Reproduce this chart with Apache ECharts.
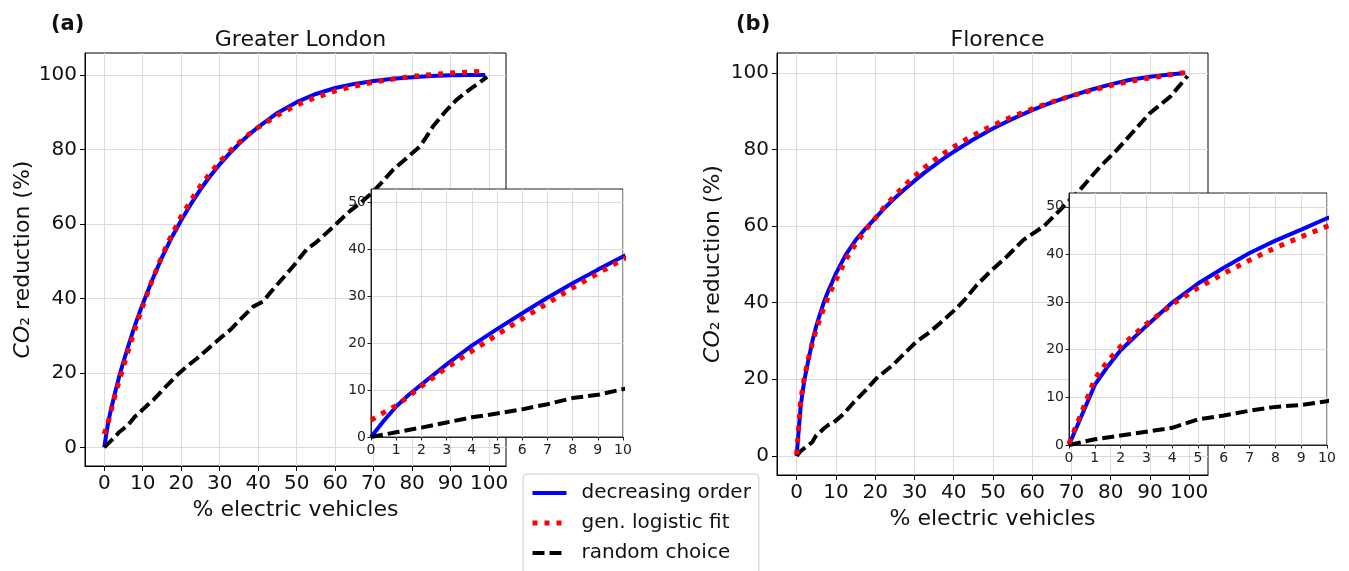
<!DOCTYPE html>
<html>
<head>
<meta charset="utf-8">
<script src="https://cdn.jsdelivr.net/npm/echarts@6/dist/echarts.min.js"></script>
<style>
html,body{margin:0;padding:0;background:#fff;}
#chart{width:1349px;height:571px;}
</style>
</head>
<body>
<div id="chart"></div>
<script>
// ---- data ----
const FIT_X = [0,0.5,1,1.5,2,3,4,5,6,7,8,9,10,12.5,15,17.5,20,22.5,25,27.5,30,32.5,35,37.5,40,45,50,55,60,65,70,75,80,85,90,95,99];
const LONDON_DEC = [0,3.4,6.5,9,11.2,15.5,19.5,23,26.4,29.7,32.8,35.7,38.5,45,51,56.3,61,65.3,69.3,72.8,76,78.9,81.5,83.9,86,89.8,92.7,94.9,96.5,97.6,98.4,99,99.4,99.7,99.9,100,100];
const LONDON_FIT = [3.6,5.2,6.7,8.7,10.8,14.8,18.3,21.8,25.2,28.5,31.8,34.9,37.9,45,51.4,57,62,66.3,70.2,73.6,76.7,79.4,81.8,84,85.9,89.2,91.9,94,95.7,97,98.1,98.9,99.6,100.1,100.5,100.8,101];
const LONDON_RAND_X = [0,1,2,3,4,5,6,7,8,9,10,13,16,19,21.4,24,27,30,32.7,35.5,38.7,41.3,43.5,45.7,49,52.6,55,57.8,61,63.9,66.5,69.1,72,75.1,78.5,82.1,83.8,85.5,88.5,91.6,95.5,99.5];
const LONDON_RAND = [0,1,2,3.1,4.2,5,5.9,7,8.3,9,10.2,13,16.3,19.5,21.7,23.8,26.5,29.2,31.5,34.5,37.8,39.2,42,44.6,48.5,53.2,55,57.6,60.7,63.5,65.6,67.9,71,74.6,77.6,80.9,83.5,86.3,90,93.4,96.5,99.5];

const FLORENCE_DEC = [0,6.3,12.6,16.5,19.9,25,29.9,33.9,37.2,40.3,42.9,45.2,47.6,52.5,56.3,59.3,62,64.8,67.3,69.6,71.8,73.9,75.8,77.7,79.4,82.6,85.5,88,90.3,92.3,94,95.6,97,98.2,99,99.6,100];
const FLORENCE_FIT = [0.3,7,13.9,17.6,20.7,25.4,29.5,33,36,38.8,41.4,43.7,45.9,51.2,55.3,58.9,62,65.2,68,70.6,73,75.2,77.2,79,80.7,83.7,86.3,88.6,90.6,92.4,94,95.4,96.7,97.8,98.7,99.5,100.1];
const FLORENCE_RAND_X = [0,1,2,3,4,5,6,7,8,9,10,12,14.4,17,20.4,24.6,27.5,30.6,33.5,36.5,40.8,43,45.9,49.3,53.5,57.8,62.9,67.1,72.2,77.3,81.6,85.8,90,95.2,99.6];
const FLORENCE_RAND = [0,1.2,2,2.8,3.6,5.4,6.2,7.2,8,8.4,9.2,11,13.8,16.5,20.3,23.8,26.8,29.9,32,34.6,38.6,41,44.6,48.1,52,56.4,59.9,64.2,69.5,75.5,79.9,84.7,89.5,93.8,99.2];

const MAIN_X_TICKS = [0,10,20,30,40,50,60,70,80,90,100];
const MAIN_Y_TICKS = [0,20,40,60,80,100];
const INSET_X_TICKS = [0,1,2,3,4,5,6,7,8,9,10];
const INSET_Y_TICKS = [0,10,20,30,40,50];

const NAMES = ['decreasing order','gen. logistic fit','random choice'];
const TITLES = ['Greater London','Florence'];
const PANELS = ['(a)','(b)'];

// ---- build ----
const FONT = 'DejaVu Sans';
const pairs = (xs, ys) => xs.map((x, i) => [x, ys[i]]);

const gridLines = {show:true, lineStyle:{color:'#dcdcdc', width:1}};

function mainX(gridIndex, max){
  return {
    type:'value', gridIndex, min:-5, max,
    axisLine:{show:true, onZero:false, lineStyle:{color:'#000', width:1}},
    axisTick:{show:true, customValues:MAIN_X_TICKS, length:5, lineStyle:{color:'#000'}},
    axisLabel:{customValues:MAIN_X_TICKS, fontSize:20, color:'#111', margin:8, fontFamily:FONT},
    splitLine:gridLines,
    name:'% electric vehicles', nameLocation:'middle', nameGap:30,
    nameTextStyle:{fontSize:22, color:'#111', fontFamily:FONT}
  };
}
function mainY(gridIndex, min, max, gap){
  return {
    type:'value', gridIndex, min, max,
    axisLine:{show:true, onZero:false, lineStyle:{color:'#000', width:1}},
    axisTick:{show:true, customValues:MAIN_Y_TICKS, length:5, lineStyle:{color:'#000'}},
    axisLabel:{customValues:MAIN_Y_TICKS, fontSize:20, color:'#111', margin:8, fontFamily:FONT},
    splitLine:gridLines,
    name:'{i|CO}₂ reduction (%)', nameLocation:'middle', nameGap:gap,
    nameTextStyle:{fontSize:22, color:'#111', fontFamily:FONT,
      rich:{i:{fontSize:22, fontStyle:'italic', color:'#111', fontFamily:FONT}}}
  };
}
function insetX(gridIndex){
  return {
    type:'value', gridIndex, min:0, max:10, z:11,
    axisLine:{show:true, onZero:false, lineStyle:{color:'#222', width:1}},
    axisTick:{show:true, customValues:INSET_X_TICKS, length:3.5, lineStyle:{color:'#222'}},
    axisLabel:{customValues:INSET_X_TICKS, fontSize:14, color:'#222', margin:6, fontFamily:FONT},
    splitLine:gridLines
  };
}
function insetY(gridIndex){
  return {
    type:'value', gridIndex, min:0, max:52.9, z:11,
    axisLine:{show:true, onZero:false, lineStyle:{color:'#222', width:1}},
    axisTick:{show:true, customValues:INSET_Y_TICKS, length:3.5, lineStyle:{color:'#222'}},
    axisLabel:{customValues:INSET_Y_TICKS, fontSize:14, color:'#222', margin:5, fontFamily:FONT},
    splitLine:gridLines
  };
}

const STYLES = [
  {color:'#0000ff', width:4, type:'solid'},
  {color:'#ff0000', width:5, type:[5,7]},
  {color:'#000000', width:4, type:[12,5]}
];

function seriesSet(axisIndex, sets, z){
  return sets.map((d, k) => ({
    type:'line', name:NAMES[k], xAxisIndex:axisIndex, yAxisIndex:axisIndex,
    data:d, showSymbol:false, symbol:'none', z:z + (k===1 ? 1 : 0),
    lineStyle:STYLES[k], itemStyle:{color:STYLES[k].color},
    animation:false, clip:true
  }));
}

const londonSets = [pairs(FIT_X, LONDON_DEC), pairs(FIT_X, LONDON_FIT), pairs(LONDON_RAND_X, LONDON_RAND)];
const florenceSets = [pairs(FIT_X, FLORENCE_DEC), pairs(FIT_X, FLORENCE_FIT), pairs(FLORENCE_RAND_X, FLORENCE_RAND)];

const option = {
  animation:false,
  backgroundColor:'#fff',
  textStyle:{fontFamily:FONT},
  title:[
    {text:TITLES[0], left:295.5, top:24, textAlign:'center', textStyle:{fontSize:22, fontWeight:'normal', color:'#111', fontFamily:FONT}},
    {text:TITLES[1], left:992.5, top:24, textAlign:'center', textStyle:{fontSize:22, fontWeight:'normal', color:'#111', fontFamily:FONT}},
    {text:PANELS[0], left:46, top:9, textStyle:{fontSize:21, fontWeight:'bold', color:'#111', fontFamily:FONT}},
    {text:PANELS[1], left:731, top:9, textStyle:{fontSize:21, fontWeight:'bold', color:'#111', fontFamily:FONT}}
  ],
  legend:{
    data:NAMES.map((n, k) => ({name:n, lineStyle:{width:STYLES[k].width, type:STYLES[k].type, color:STYLES[k].color}})),
    orient:'vertical', left:523, top:474, height:130,
    padding:[9,8,14,7], itemGap:10, itemWidth:34, itemHeight:12,
    backgroundColor:'#fff', borderColor:'#cccccc', borderWidth:1, borderRadius:4,
    itemStyle:{color:'rgba(0,0,0,0)', borderColor:'rgba(0,0,0,0)', borderWidth:0, opacity:0},
    textStyle:{fontSize:20, color:'#111', fontFamily:FONT, lineHeight:20, padding:[0,0,0,10]}
  },
  grid:[
    {left:85, top:53, width:421, height:413, show:true, borderColor:'#000', borderWidth:1, backgroundColor:'transparent', z:0, containLabel:false},
    {left:371, top:189, width:252, height:248, show:true, borderColor:'#222', borderWidth:1, backgroundColor:'#fff', z:10, containLabel:false},
    {left:777, top:53, width:431, height:422, show:true, borderColor:'#000', borderWidth:1, backgroundColor:'transparent', z:0, containLabel:false},
    {left:1069, top:193, width:258, height:252, show:true, borderColor:'#222', borderWidth:1, backgroundColor:'#fff', z:10, containLabel:false}
  ],
  xAxis:[mainX(0, 104.4), insetX(1), mainX(2, 104.8), insetX(3)],
  yAxis:[mainY(0, -5, 105.9, 51), insetY(1), mainY(2, -5, 105.2, 53), insetY(3)],
  series:[].concat(
    seriesSet(0, londonSets, 2),
    seriesSet(1, londonSets, 12),
    seriesSet(2, florenceSets, 2),
    seriesSet(3, florenceSets, 12)
  )
};

const chart = echarts.init(document.getElementById('chart'), null, {renderer:'canvas'});
chart.setOption(option);
</script>
</body>
</html>
